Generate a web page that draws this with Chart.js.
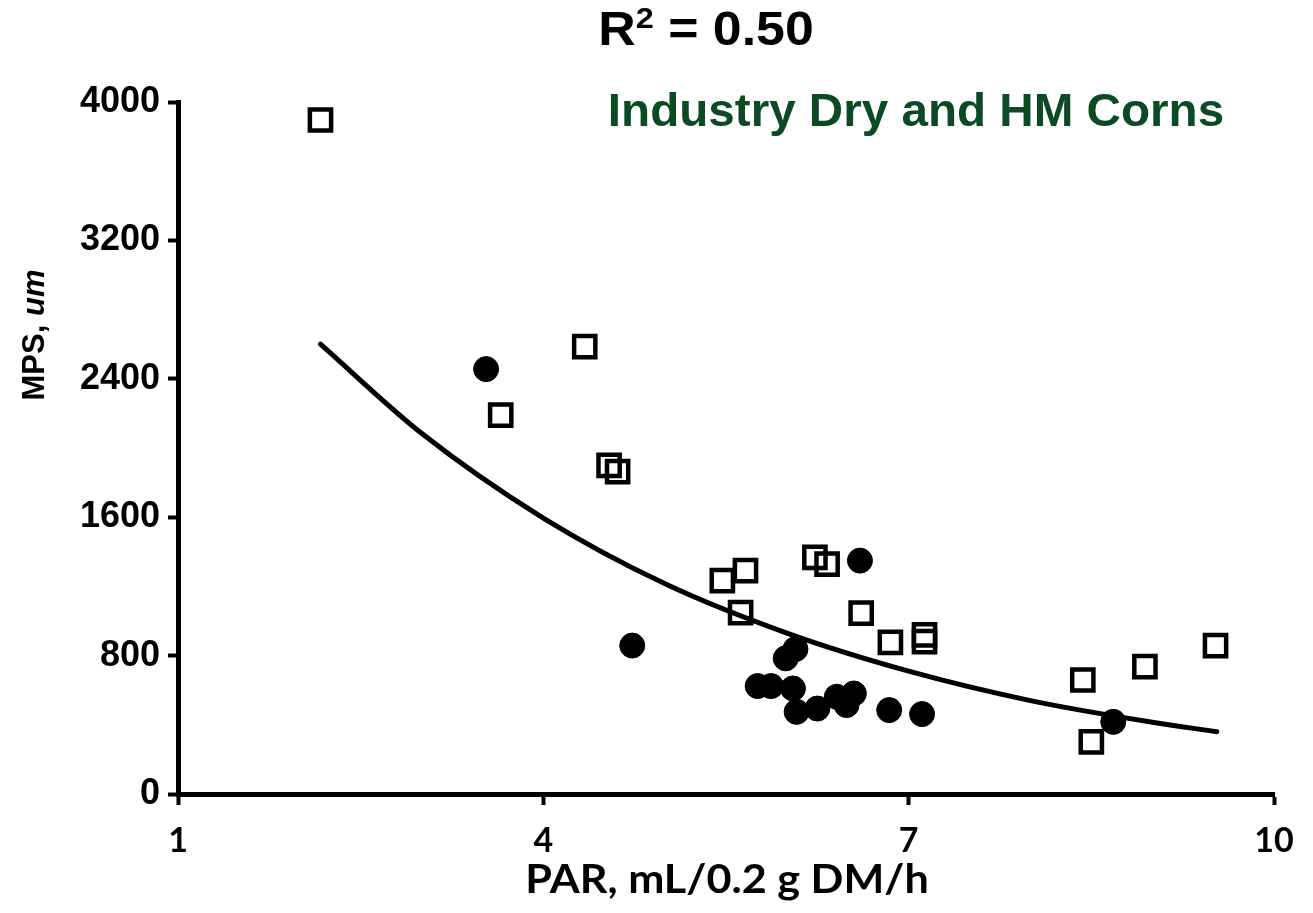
<!DOCTYPE html>
<html>
<head>
<meta charset="utf-8">
<title>MPS vs PAR</title>
<script src="https://cdn.jsdelivr.net/npm/chart.js@4.4.1/dist/chart.umd.min.js"></script>
<style>
  html, body { margin: 0; padding: 0; background: #fff; }
  #wrap { width: 1313px; height: 913px; }
</style>
</head>
<body>
<div id="wrap"><canvas id="mpsChart" width="1313" height="913"></canvas></div>
<script>
// ---- data: PAR (mL/0.2 g DM/h) vs MPS (um) ----
const dryPar = [2.17, 4.34, 3.65, 4.54, 4.61, 5.47, 5.66, 5.62, 6.23, 6.33, 6.61, 6.85, 7.13, 7.13, 8.43, 8.50, 8.94, 9.52];
const dryMps = [3896, 2586, 2190, 1900, 1863, 1233, 1291, 1049, 1368, 1329, 1045, 877, 920, 881, 659, 301, 736, 858];

const hmPar = [3.53, 4.73, 5.76, 5.87, 5.99, 6.07, 6.05, 6.08, 6.25, 6.41, 6.49, 6.55, 6.60, 6.84, 7.11, 8.68];
const hmMps = [2456, 858, 624, 624, 784, 837, 610, 475, 494, 562, 514, 581, 1349, 485, 462, 417];

// trend curve
const fitPar = [2.17, 3, 4, 5, 6, 7, 8, 9, 9.53];
const fitMps = [2600, 2085, 1595, 1215, 930, 710, 540, 415, 360];

const xTicks = [1, 4, 7, 10];
const yTicks = [0, 800, 1600, 2400, 3200, 4000];

const toPoints = (xs, ys) => xs.map((x, i) => ({ x: x, y: ys[i] }));

const ARIAL = "'Liberation Sans', Arial, sans-serif";

// draw a run of [text, font, dy] pieces centred on cx (optionally stretched)
function drawRun(ctx, pieces, cx, y, stretch) {
  const sx = stretch || 1;
  let natural = 0;
  pieces.forEach(p => { ctx.font = p[1]; natural += ctx.measureText(p[0]).width; });
  ctx.save();
  ctx.translate(cx - natural * sx / 2, y);
  ctx.scale(sx, 1);
  let x = 0;
  pieces.forEach(p => {
    ctx.font = p[1];
    ctx.fillText(p[0], x, p[2] || 0);
    x += ctx.measureText(p[0]).width;
  });
  ctx.restore();
}

// titles and axis labels (superscript / italic parts)
const textPlugin = {
  id: "chartText",
  afterDraw(chart) {
    const ctx = chart.ctx;
    ctx.save();
    ctx.fillStyle = "#000";
    ctx.textBaseline = "alphabetic";
    ctx.textAlign = "left";

    // R² = 0.50
    drawRun(ctx, [
      ["R", "bold 48px " + ARIAL],
      ["2", "bold 30px " + ARIAL, -17],
      [" = 0.50", "bold 48px " + ARIAL]
    ], 706, 45, 1.08);

    // green subtitle
    ctx.fillStyle = "#0b4a22";
    drawRun(ctx, [["Industry Dry and HM Corns", "bold 46px " + ARIAL]], 916, 126, 1.035);

    // x axis title
    ctx.fillStyle = "#000";
    drawRun(ctx, [["PAR, mL/0.2 g DM/h", "bold 40px Lato, " + ARIAL]], 727, 893, 1.08);

    // y axis title, rotated
    ctx.translate(44, 335);
    ctx.rotate(-Math.PI / 2);
    drawRun(ctx, [
      ["MPS, ", "bold 31px " + ARIAL],
      ["um", "italic bold 31px " + ARIAL]
    ], 0, 0, 1.0);
    ctx.restore();
  }
};

const ctx = document.getElementById("mpsChart").getContext("2d");

new Chart(ctx, {
  type: "scatter",
  data: {
    datasets: [
      {
        label: "Trend",
        type: "line",
        data: toPoints(fitPar, fitMps),
        borderColor: "#000",
        borderWidth: 5,
        pointRadius: 0,
        fill: false,
        cubicInterpolationMode: "monotone",
        borderCapStyle: "round",
        order: 3
      },
      {
        label: "Dry",
        data: toPoints(dryPar, dryMps),
        pointStyle: "rect",
        pointRadius: 15,
        borderWidth: 4.5,
        borderColor: "#000",
        backgroundColor: "rgba(0,0,0,0)",
        order: 2
      },
      {
        label: "HM",
        data: toPoints(hmPar, hmMps),
        pointStyle: "circle",
        pointRadius: 12.5,
        borderWidth: 1,
        borderColor: "#000",
        backgroundColor: "#000",
        order: 1
      }
    ]
  },
  options: {
    responsive: false,
    animation: false,
    events: [],
    layout: { padding: { left: 0, right: 39, top: 102, bottom: 0 } },
    plugins: {
      legend: { display: false },
      tooltip: { enabled: false }
    },
    scales: {
      x: {
        type: "linear",
        min: 1,
        max: 10,
        afterBuildTicks: (scale) => { scale.ticks = xTicks.map(v => ({ value: v })); },
        afterFit: (scale) => { scale.height = 119; },
        border: { color: "#000", width: 5 },
        grid: { drawOnChartArea: false, drawTicks: true, tickLength: 11, tickWidth: 4, tickColor: "#000" },
        ticks: {
          color: "#000",
          padding: 16,
          callback: (v) => String(v),
          font: { family: "Lato, 'Liberation Sans', sans-serif", size: 34, weight: "bold" }
        }
      },
      y: {
        type: "linear",
        min: 0,
        max: 4000,
        afterBuildTicks: (scale) => { scale.ticks = yTicks.map(v => ({ value: v })); },
        afterFit: (scale) => { scale.width = 178; },
        border: { color: "#000", width: 5 },
        grid: { drawOnChartArea: false, drawTicks: true, tickLength: 10, tickWidth: 4, tickColor: "#000" },
        ticks: {
          color: "#000",
          padding: 8,
          callback: (v) => String(v),
          font: { family: ARIAL, size: 36, weight: "bold" }
        }
      }
    }
  },
  plugins: [textPlugin]
});
</script>
</body>
</html>
